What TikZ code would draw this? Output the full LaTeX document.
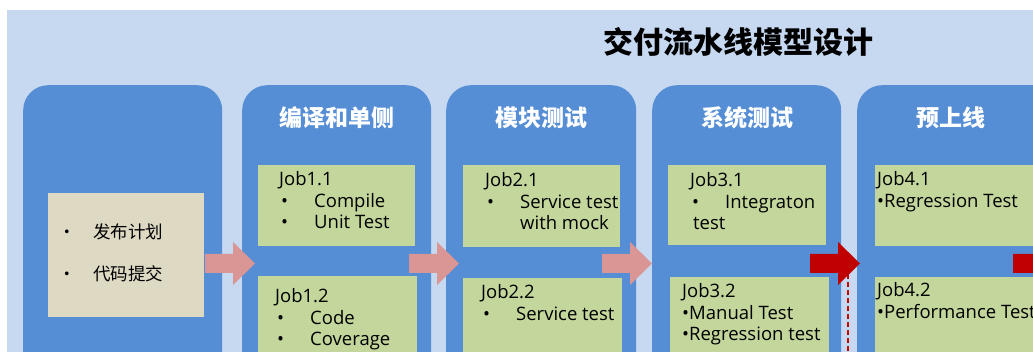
\documentclass[tikz,border=0pt]{standalone}
\usepackage{fontspec}
\setmainfont{Open Sans}
\newfontfamily\cjk{Noto Sans CJK SC}
\definecolor{bgblue}{HTML}{C6D9F1}
\definecolor{colblue}{HTML}{558ED5}
\definecolor{jobgreen}{HTML}{C3D69B}
\definecolor{planbeige}{HTML}{DDD9C3}
\definecolor{pinkarr}{HTML}{DA9694}
\definecolor{redarr}{HTML}{C00000}
\newcommand{\bul}{\hspace{2pt}\makebox[33pt][l]{•}}
\newcommand{\blockarr}[2]{\fill[#2] (#1,254) -- ++(28,0) -- ++(0,-12) -- ++(22,21.5) -- ++(-22,21.5) -- ++(0,-12) -- ++(-28,0) -- cycle;}
\begin{document}
\begin{tikzpicture}[x=1pt,y=-1pt,
  colbox/.style={fill=colblue, rounded corners=25pt, inner sep=0pt, anchor=north west, minimum height=330pt},
  gbox/.style={fill=jobgreen, inner sep=0pt, anchor=north west},
  jobtext/.style={anchor=base west, inner sep=0pt, font=\fontsize{18.5}{21.5}\selectfont},
  header/.style={text=white, font=\cjk\bfseries\fontsize{23}{26}\selectfont, inner sep=0pt},
  plantext/.style={anchor=west, inner sep=0pt, font=\cjk\fontsize{17.5}{20}\selectfont}]
\useasboundingbox (0,0) rectangle (1033,352);
\clip (0,0) rectangle (1033,352);
\fill[white] (0,0) rectangle (1033,352);
\fill[bgblue] (7,10) rectangle (1040,360);

% title
\node[font=\cjk\bfseries\fontsize{30}{34}\selectfont, inner sep=0pt] (title) at (738,42) {交付流水线模型设计};

% columns
\node[colbox, minimum width=199pt] (c0) at (23,85) {};
\node[colbox, minimum width=189pt] (c1) at (242,85) {};
\node[colbox, minimum width=190pt] (c2) at (446,85) {};
\node[colbox, minimum width=189pt] (c3) at (652,85) {};
\node[colbox, minimum width=220pt] (c4) at (857,85) {};

% headers
\node[header] (h1) at (337,118) {编译和单侧};
\node[header] (h2) at (541,118) {模块测试};
\node[header] (h3) at (747,118) {系统测试};
\node[header] (h4) at (951,118) {预上线};

% plan box
\node[fill=planbeige, inner sep=0pt, anchor=north west, minimum width=156pt, minimum height=124pt] (plan) at (48,193) {};
\node[plantext] (p1) at (58,232) {\makebox[35pt][l]{•}发布计划};
\node[plantext] (p2) at (58,274) {\makebox[35pt][l]{•}代码提交};

% job boxes
\node[gbox, minimum width=157pt, minimum height=81pt] (g11) at (258,165) {};
\node[gbox, minimum width=159pt, minimum height=90pt] (g12) at (258,276) {};
\node[gbox, minimum width=157pt, minimum height=82pt] (g21) at (463,165) {};
\node[gbox, minimum width=159pt, minimum height=90pt] (g22) at (463,278) {};
\node[gbox, minimum width=158pt, minimum height=80pt] (g31) at (668,165) {};
\node[gbox, minimum width=159pt, minimum height=90pt] (g32) at (670,277) {};
\node[gbox, minimum width=180pt, minimum height=81pt] (g41) at (875,165) {};
\node[gbox, minimum width=180pt, minimum height=90pt] (g42) at (875,277) {};

% job texts
\node[jobtext] (t11) at (279,186) {\begin{tabular}[t]{@{}l@{}}Job1.1\\\bul Compile\\\bul Unit Test\end{tabular}};
\node[jobtext] (t12) at (275,303) {\begin{tabular}[t]{@{}l@{}}Job1.2\\\bul Code\\\bul Coverage\end{tabular}};
\node[jobtext] (t21) at (485,187) {\begin{tabular}[t]{@{}l@{}}Job2.1\\\bul Service test\\\hspace{35pt}with mock\end{tabular}};
\node[jobtext] (t22) at (481,299) {\begin{tabular}[t]{@{}l@{}}Job2.2\\\bul Service test\end{tabular}};
\node[jobtext] (t31) at (690,187) {\begin{tabular}[t]{@{}l@{}}Job3.1\\\bul Integraton\\\hspace{3pt}test\end{tabular}};
\node[jobtext] (t32) at (682,298) {\begin{tabular}[t]{@{}l@{}}Job3.2\\•Manual Test\\•Regression test\end{tabular}};
\node[jobtext] (t41) at (877,186) {\begin{tabular}[t]{@{}l@{}}Job4.1\\•Regression Test\end{tabular}};
\node[jobtext] (t42) at (877,297) {\begin{tabular}[t]{@{}l@{}}Job4.2\\•Performance Test\end{tabular}};

% arrows
\blockarr{205}{pinkarr}
\blockarr{409}{pinkarr}
\blockarr{602}{pinkarr}
\blockarr{810}{redarr}
\blockarr{1013}{redarr}

% dashed line
\coordinate (d1) at (848,274);
\coordinate (d2) at (848,360);
\draw[redarr, line width=1.5pt, dash pattern=on 5pt off 3pt] (d1) -- (d2);
\end{tikzpicture}
\end{document}
